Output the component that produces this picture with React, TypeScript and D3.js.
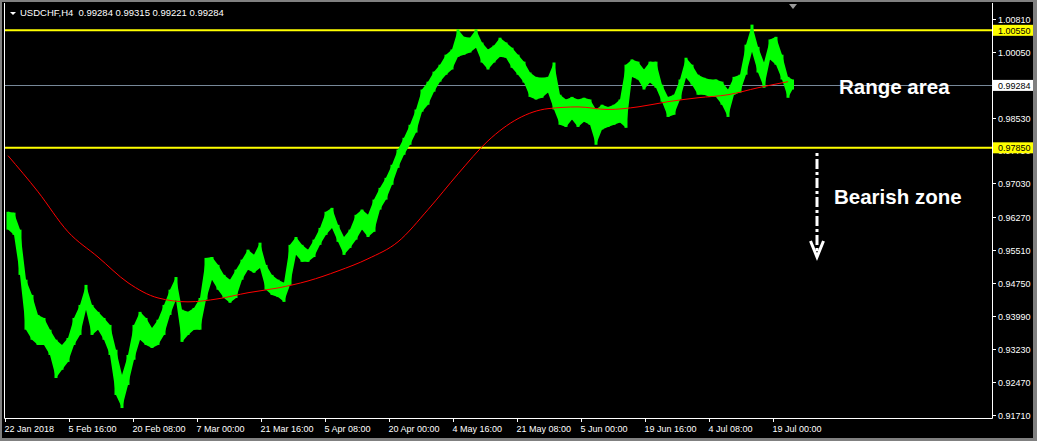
import * as d3 from "d3"
import React, { useRef, useEffect } from "react"

const symbol = "USDCHF,H4"
const quote = ["0.99284", "0.99315", "0.99221", "0.99284"]

// daily high / low of the H4 bars (6 bars per day)
const highs = [
  0.9638, 0.9636, 0.9597, 0.9482, 0.9447, 0.9401, 0.9394, 0.9367, 0.9344, 0.9332,
  0.9348, 0.9394, 0.9424, 0.947, 0.9424, 0.9408, 0.9394, 0.9378, 0.9321, 0.9263,
  0.9309, 0.9378, 0.9408, 0.9394, 0.9371, 0.939, 0.9424, 0.9459, 0.9488, 0.9413,
  0.9408, 0.9417, 0.944, 0.9532, 0.9534, 0.9516, 0.9493, 0.9482, 0.9505, 0.9528,
  0.9551, 0.9539, 0.9567, 0.9516, 0.9493, 0.9482, 0.9475, 0.9562, 0.958, 0.9562,
  0.9551, 0.9574, 0.9601, 0.9638, 0.9647, 0.9608, 0.958, 0.9597, 0.9631, 0.9643,
  0.9631, 0.9666, 0.9693, 0.9716, 0.9746, 0.9781, 0.9808, 0.9838, 0.9873, 0.9919,
  0.9937, 0.996, 0.9976, 0.9999, 1.0011, 1.0057, 1.004, 1.0038, 1.0057, 1.0027,
  1.0011, 1.002, 1.0038, 1.0027, 1.0015, 0.9999, 0.9983, 0.9958, 0.9948, 0.9946,
  0.9948, 0.9981, 0.9907, 0.9896, 0.9902, 0.9896, 0.99, 0.9896, 0.9873, 0.9884,
  0.9879, 0.9884, 0.9896, 0.9976, 0.9988, 0.9983, 0.9965, 0.9983, 0.9983, 0.993,
  0.9902, 0.9907, 0.9942, 0.9992, 0.9976, 0.9953, 0.9946, 0.9942, 0.9942, 0.9937,
  0.9919, 0.9948, 0.9953, 1.0022, 1.0068, 1.0017, 0.9981, 1.0034, 1.004, 0.9999,
  0.9948, 0.9942,
]
const lows = [
  0.9597, 0.9585, 0.9493, 0.9367, 0.9344, 0.9332, 0.9332, 0.9309, 0.9256, 0.9275,
  0.9293, 0.9332, 0.9355, 0.9413, 0.9355, 0.9367, 0.9344, 0.9309, 0.9217, 0.9187,
  0.924, 0.9298, 0.9344, 0.9332, 0.9325, 0.9332, 0.9355, 0.9401, 0.9436, 0.9339,
  0.9355, 0.9367, 0.9367, 0.9436, 0.9482, 0.9459, 0.944, 0.9429, 0.944, 0.9482,
  0.9505, 0.9498, 0.9509, 0.9459, 0.9447, 0.9442, 0.9431, 0.947, 0.9539, 0.9523,
  0.9523, 0.9534, 0.9562, 0.9585, 0.9601, 0.9569, 0.9539, 0.9555, 0.9574, 0.9597,
  0.958, 0.9592, 0.9643, 0.9666, 0.97, 0.9739, 0.9769, 0.9792, 0.982, 0.9868,
  0.9884, 0.9914, 0.9937, 0.9953, 0.9965, 0.9994, 0.9999, 1.0004, 1.0015, 0.9981,
  0.9965, 0.9981, 0.9994, 0.9992, 0.9969, 0.9953, 0.9935, 0.9902, 0.9896, 0.99,
  0.9912, 0.9873, 0.9838, 0.9833, 0.985, 0.9833, 0.9845, 0.9838, 0.9792, 0.9827,
  0.9833, 0.9838, 0.9843, 0.9831, 0.9948, 0.9942, 0.9919, 0.9935, 0.9923, 0.9891,
  0.9856, 0.9861, 0.9896, 0.9946, 0.993, 0.9907, 0.9907, 0.9902, 0.9902, 0.9884,
  0.9856, 0.9907, 0.9912, 0.9953, 1.0006, 0.9958, 0.9923, 0.9988, 0.9976, 0.9942,
  0.99, 0.9919,
]
// moving average, one value every 5 days
const maValues = [
  0.9767, 0.9684, 0.9592, 0.9534, 0.9475, 0.944, 0.9431, 0.9438, 0.9452, 0.9463,
  0.9479, 0.9502, 0.953, 0.9569, 0.9643, 0.9725, 0.9801, 0.9852, 0.9875, 0.9879,
  0.9873, 0.9879, 0.9891, 0.99, 0.9907, 0.9923, 0.9937,
]
const priceTicks = [1.0081, 1.0005, 0.9853, 0.9779, 0.9703, 0.9627, 0.9551, 0.9475, 0.9399, 0.9323, 0.9247, 0.9171]
const dateLabels = [
  "22 Jan 2018", "5 Feb 16:00", "20 Feb 08:00", "7 Mar 00:00", "21 Mar 16:00", "5 Apr 08:00",
  "20 Apr 00:00", "4 May 16:00", "21 May 08:00", "5 Jun 00:00", "19 Jun 16:00", "4 Jul 08:00", "19 Jul 00:00",
]
const levels = [1.0055, 0.9785]
const lastPrice = 0.99284

const barsPerDay = 6
const lastDayBars = 3
const barsPerLabel = 64
const maStepDays = 5

function App() {
  const ref = useRef<SVGSVGElement>(null)

  useEffect(() => {
    const svg = d3.select(ref.current)
    svg.selectAll("*").remove()

    const width = 1037,
      height = 441
    const left = 5,
      right = 992,
      bottom = 418
    const font = "'Liberation Sans', Arial, sans-serif"

    const nBars = (highs.length - 1) * barsPerDay + lastDayBars
    const x = d3.scaleLinear().domain([0, nBars]).range([left, left + nBars])
    const y = d3.scaleLinear().domain([0.9171, 1.0081]).range([415, 19])

    svg.append("rect").attr("width", width).attr("height", height).attr("fill", "#808080")
    svg.append("rect").attr("x", 2).attr("y", 2).attr("width", 1031).attr("height", 436).attr("fill", "#000")

    // horizontal levels
    svg
      .selectAll("line.level")
      .data(levels)
      .enter()
      .append("line")
      .attr("x1", left)
      .attr("x2", right)
      .attr("y1", (d) => y(d))
      .attr("y2", (d) => y(d))
      .attr("stroke", "#ffff00")
      .attr("stroke-width", 2)

    svg
      .append("line")
      .attr("x1", left)
      .attr("x2", right)
      .attr("y1", Math.round(y(lastPrice)) + 0.5)
      .attr("y2", Math.round(y(lastPrice)) + 0.5)
      .attr("stroke", "#778899")

    // price band: day ranges joined into one area, with thin day bars on top
    const dayX = (i: number) =>
      i === highs.length - 1 ? x(i * barsPerDay + lastDayBars / 2) : x(i * barsPerDay + barsPerDay / 2)
    const band = d3
      .area<number>()
      .x((d, i) => dayX(i))
      .y0((d, i) => y(lows[i]))
      .y1((d) => y(d))
    svg.append("path").attr("d", band(highs)).attr("fill", "#00ff00")

    svg
      .append("g")
      .selectAll("rect")
      .data(highs)
      .enter()
      .append("rect")
      .attr("x", (d, i) => dayX(i) - 1.5)
      .attr("width", 3)
      .attr("y", (d) => y(d))
      .attr("height", (d, i) => Math.max(1, y(lows[i]) - y(d)))
      .attr("fill", "#00ff00")

    // moving average
    const maLine = d3
      .line<number>()
      .x((d, i) => x(i * maStepDays * barsPerDay + barsPerDay / 2))
      .y((d) => y(d))
      .curve(d3.curveMonotoneX)
    svg
      .append("path")
      .attr("d", maLine(maValues))
      .attr("fill", "none")
      .attr("stroke", "#ff0000")
      .attr("stroke-width", 1)

    // frame
    svg
      .append("path")
      .attr("d", `M${left - 0.5},3V${bottom + 0.5}H${right + 0.5}V3`)
      .attr("fill", "none")
      .attr("stroke", "#fff")

    // right axis
    const yAxis = svg.append("g")
    priceTicks.forEach((t) => {
      const ty = Math.round(y(t)) + 0.5
      yAxis.append("line").attr("x1", right).attr("x2", right + 4).attr("y1", ty).attr("y2", ty).attr("stroke", "#fff")
      yAxis
        .append("text")
        .attr("x", right + 6)
        .attr("y", ty + 3.5)
        .attr("fill", "#fff")
        .style("font", `9px ${font}`)
        .text(t.toFixed(5))
    })

    const boxes = [
      ...levels.map((v) => ({ v, fill: "#ffff00" })),
      { v: lastPrice, fill: "#ffffff" },
    ]
    boxes.forEach((b) => {
      const by = y(b.v)
      svg.append("rect").attr("x", right + 1).attr("y", by - 5.5).attr("width", 40).attr("height", 11).attr("fill", b.fill)
      svg
        .append("text")
        .attr("x", right + 6)
        .attr("y", by + 3.5)
        .attr("fill", "#000")
        .style("font", `9px ${font}`)
        .text(b.v.toFixed(5))
    })

    // bottom axis
    const xAxis = svg.append("g")
    dateLabels.forEach((label, i) => {
      const tx = Math.round(x(i * barsPerLabel)) + 0.5
      xAxis.append("line").attr("x1", tx).attr("x2", tx).attr("y1", bottom).attr("y2", bottom + 4).attr("stroke", "#fff")
      xAxis
        .append("text")
        .attr("x", tx - 1)
        .attr("y", 432)
        .attr("fill", "#fff")
        .style("font", `9px ${font}`)
        .text(label)
    })

    // header
    svg.append("path").attr("d", "M10,12H16L13,15Z").attr("fill", "#fff")
    svg
      .append("text")
      .attr("x", 20)
      .attr("y", 16)
      .attr("fill", "#fff")
      .style("font", `9.5px ${font}`)
      .style("white-space", "pre")
      .text(`${symbol}  ${quote.join(" ")}`)

    // shift marker
    svg.append("path").attr("d", "M789,4H797L793,9Z").attr("fill", "#9a9a9a")

    // annotations
    svg
      .append("text")
      .attr("x", 839)
      .attr("y", 94)
      .attr("fill", "#fff")
      .style("font", `bold 20.5px ${font}`)
      .text("Range area")
    svg
      .append("text")
      .attr("x", 834)
      .attr("y", 204)
      .attr("fill", "#fff")
      .style("font", `bold 20.5px ${font}`)
      .text("Bearish zone")
    svg
      .append("line")
      .attr("x1", 817)
      .attr("x2", 817)
      .attr("y1", 153)
      .attr("y2", 255)
      .attr("stroke", "#fff")
      .attr("stroke-width", 3)
      .attr("stroke-dasharray", "3,3,10,3")
    svg
      .append("path")
      .attr("d", "M810.5,241L817,257L823.5,241")
      .attr("fill", "none")
      .attr("stroke", "#fff")
      .attr("stroke-width", 3)
  }, [])

  return (
    <svg
      ref={ref}
      width={1037}
      height={441}
      style={{ position: "absolute", left: 0, top: 0, display: "block" }}
    ></svg>
  )
}

export default App
